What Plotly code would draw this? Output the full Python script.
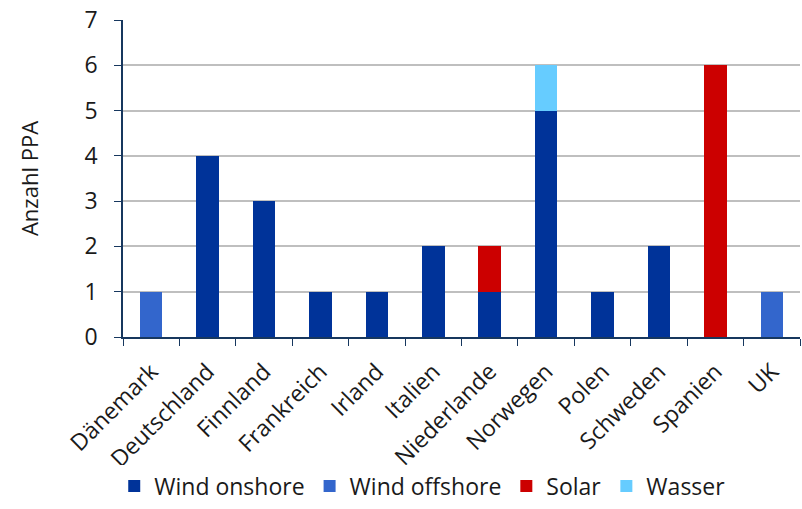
import plotly.graph_objects as go

categories = ["Dänemark", "Deutschland", "Finnland", "Frankreich", "Irland", "Italien",
              "Niederlande", "Norwegen", "Polen", "Schweden", "Spanien", "UK"]
wind_onshore = [0, 4, 3, 1, 1, 2, 1, 5, 1, 2, 0, 0]
wind_offshore = [1, 0, 0, 0, 0, 0, 0, 0, 0, 0, 0, 1]
solar = [0, 0, 0, 0, 0, 0, 1, 0, 0, 0, 6, 0]
wasser = [0, 0, 0, 0, 0, 0, 0, 1, 0, 0, 0, 0]

series = [
    ("Wind onshore", wind_onshore, "#003399"),
    ("Wind offshore", wind_offshore, "#3366CC"),
    ("Solar", solar, "#CC0000"),
    ("Wasser", wasser, "#66CCFF"),
]

FONT = "Open Sans"
fig = go.Figure()
for name, vals, col in series:
    fig.add_trace(go.Bar(
        x=categories, y=vals, name=name,
        marker=dict(color=col, line=dict(width=0)),
    ))

fig.update_layout(
    barmode="stack",
    bargap=0.6,
    width=802, height=509,
    margin=dict(l=123, r=2, t=20, b=172, autoexpand=False),
    plot_bgcolor="white", paper_bgcolor="white",
    font=dict(family=FONT, size=22, color="#1a1a1a"),
    showlegend=True,
    legend=dict(orientation="h", x=0.442, xanchor="center", y=-0.538, yanchor="bottom",
                font=dict(size=23), itemwidth=30, traceorder="normal",
                tracegroupgap=0),
    xaxis=dict(
        type="category", tickangle=-45, tickson="boundaries", automargin=False,
        ticks="outside", ticklen=7, tickcolor="#17375E", ticklabelstandoff=10,
        showline=True, linecolor="#17375E", linewidth=2,
        tickfont=dict(size=23),
    ),
    yaxis=dict(
        range=[0, 7], dtick=1, showgrid=True, gridcolor="#BFBFBF", gridwidth=1.5,
        ticks="outside", ticklen=7, tickcolor="#17375E", automargin=False,
        ticklabelstandoff=12,
        showline=True, linecolor="#17375E", linewidth=1.5,
        zeroline=False, tickfont=dict(size=23),
        title=dict(text="Anzahl PPA", font=dict(size=22), standoff=40),
    ),
)

fig.write_html("out.html", config={"displayModeBar": False},
               post_script="document.body.style.margin='0';")
